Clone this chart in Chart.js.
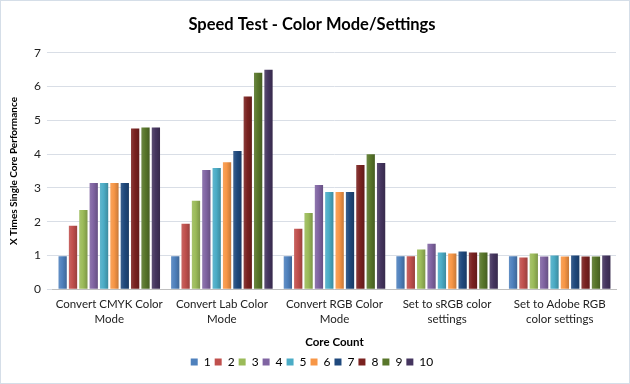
<!DOCTYPE html>
<html>
<head>
<meta charset="utf-8">
<script src="https://cdn.jsdelivr.net/npm/chart.js@4"></script>
<style>
  html, body { margin: 0; padding: 0; background: #fff; }
  #wrap { position: relative; width: 628px; height: 382px; border: 1px solid #D5DEE8; background: #fff; }
  canvas { display: block; }
</style>
</head>
<body>
<div id="wrap"><canvas id="c" width="628" height="382"></canvas></div>
<script>
const categories = [
  ["Convert CMYK Color", "Mode"],
  ["Convert Lab Color", "Mode"],
  ["Convert RGB Color", "Mode"],
  ["Set to sRGB color", "settings"],
  ["Set to Adobe RGB", "color settings"]
];
const seriesNames = ["1", "2", "3", "4", "5", "6", "7", "8", "9", "10"];
const core1  = [0.98, 0.98, 0.98, 0.98, 0.98];
const core2  = [1.88, 1.94, 1.79, 0.98, 0.94];
const core3  = [2.35, 2.62, 2.26, 1.18, 1.06];
const core4  = [3.15, 3.53, 3.09, 1.35, 0.97];
const core5  = [3.15, 3.59, 2.88, 1.09, 1.00];
const core6  = [3.15, 3.76, 2.88, 1.06, 0.97];
const core7  = [3.15, 4.09, 2.88, 1.12, 1.00];
const core8  = [4.76, 5.71, 3.68, 1.09, 0.97];
const core9  = [4.79, 6.41, 4.00, 1.09, 0.97];
const core10 = [4.79, 6.50, 3.74, 1.06, 1.00];
const seriesValues = [core1, core2, core3, core4, core5, core6, core7, core8, core9, core10];
const yTicks = [0, 1, 2, 3, 4, 5, 6, 7];

const baseColors = ["#4F81BD", "#C0504D", "#9BBB59", "#8064A2", "#4BACC6", "#F79646", "#1F497D", "#7A2220", "#58762A", "#45355F"];

function shade(hex, f) {
  const n = parseInt(hex.slice(1), 16);
  let r = (n >> 16) & 255, g = (n >> 8) & 255, b = n & 255;
  if (f >= 0) { r += (255 - r) * f; g += (255 - g) * f; b += (255 - b) * f; }
  else { r *= (1 + f); g *= (1 + f); b *= (1 + f); }
  return "rgb(" + Math.round(r) + "," + Math.round(g) + "," + Math.round(b) + ")";
}

const gradientPlugin = {
  id: "barGradient",
  beforeDatasetDraw(chart, args) {
    const meta = args.meta;
    const base = baseColors[args.index];
    const ctx = chart.ctx;
    meta.data.forEach(el => {
      const w = el.width || 8;
      const g = ctx.createLinearGradient(el.x - w / 2, 0, el.x + w / 2, 0);
      g.addColorStop(0, shade(base, 0.12));
      g.addColorStop(0.45, base);
      g.addColorStop(1, shade(base, -0.2));
      el.options.backgroundColor = g;
    });
  }
};

const datasets = seriesNames.map((name, i) => ({
  label: name,
  data: seriesValues[i],
  backgroundColor: (ctx) => baseColors[ctx.datasetIndex],
  borderWidth: 0,
  categoryPercentage: 0.92,
  barPercentage: 0.8
}));

const FONT = "Lato, 'Open Sans', sans-serif";

new Chart(document.getElementById("c"), {
  type: "bar",
  data: { labels: categories, datasets },
  plugins: [gradientPlugin],
  options: {
    responsive: false,
    animation: false,
    layout: { padding: { left: 7, right: 13, top: 2, bottom: 5 } },
    plugins: {
      title: {
        display: true,
        text: "Speed Test - Color Mode/Settings",
        color: "#000",
        font: { family: FONT, size: 16.5, weight: "bold" },
        padding: { top: 12, bottom: 18 }
      },
      legend: {
        position: "bottom",
        labels: {
          color: "#222",
          font: { family: FONT, size: 12 },
          boxWidth: 7,
          boxHeight: 7,
          padding: 4,
          generateLabels(chart) {
            return chart.data.datasets.map((d, i) => ({
              text: d.label,
              fillStyle: baseColors[i],
              strokeStyle: baseColors[i],
              lineWidth: 0,
              datasetIndex: i
            }));
          }
        }
      },
      tooltip: { enabled: false }
    },
    scales: {
      x: {
        grid: { display: false, drawTicks: false },
        border: { color: "#BFBFBF" },
        ticks: { color: "#222", font: { family: FONT, size: 11.5, lineHeight: 1.3 }, maxRotation: 0, autoSkip: false, padding: 8 },
        title: {
          display: true,
          text: "Core Count",
          color: "#000",
          font: { family: FONT, size: 11.5, weight: "bold" },
          padding: { top: 0, bottom: 3 }
        }
      },
      y: {
        min: 0,
        max: 7,
        afterBuildTicks(axis) { axis.ticks = yTicks.map(v => ({ value: v })); },
        grid: { color: "#D9DEE6", tickLength: 6, drawTicks: true },
        border: { display: false },
        ticks: { color: "#222", font: { family: FONT, size: 12 }, padding: 6 },
        title: {
          display: true,
          text: "X Times Single Core Performance",
          color: "#000",
          font: { family: FONT, size: 10, weight: "bold" },
          padding: { top: 0, bottom: 8 }
        }
      }
    }
  }
});
</script>
</body>
</html>
